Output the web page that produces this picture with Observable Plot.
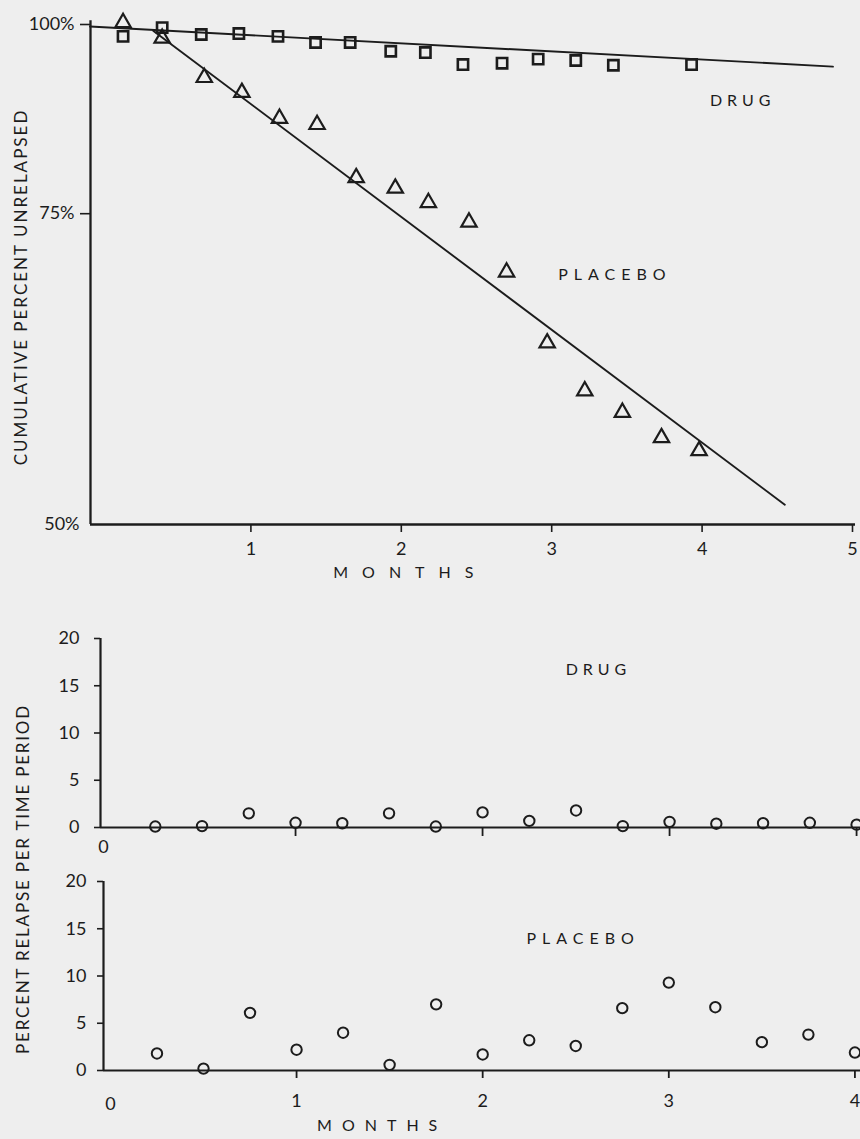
<!DOCTYPE html>
<html>
<head>
<meta charset="utf-8">
<script src="https://cdn.jsdelivr.net/npm/d3@7"></script>
<script src="https://cdn.jsdelivr.net/npm/@observablehq/plot@0.6"></script>
<style>
  html, body { margin: 0; padding: 0; background: #eeeeee; }
  #page { position: relative; width: 860px; height: 1139px; overflow: hidden; background: #eeeeee;
          font-family: Lato, "Open Sans", sans-serif; color: #1c1c1c; }
  #page svg { position: absolute; left: 0; }
  .ytitle { position: absolute; white-space: nowrap; font-size: 17px;
            transform: translate(-50%, -50%) rotate(-90deg); }
</style>
</head>
<body>
<div id="page"></div>
<script>
// ---------------- data ----------------
const xMonthTicksTop = [1, 2, 3, 4, 5];
const xMonthTicksRel = [1, 2, 3, 4];
const cumTicks = [50, 75, 100];
const relTicks = [0, 5, 10, 15, 20];
const groupNames = ["DRUG", "PLACEBO"];
const xTitle = "MONTHS";
const cumTitle = "CUMULATIVE PERCENT UNRELAPSED";
const relTitle = "PERCENT RELAPSE PER TIME PERIOD";

// cumulative percent unrelapsed (top panel)
const drugCumMonths = [0.15, 0.41, 0.67, 0.92, 1.18, 1.43, 1.66, 1.93, 2.16, 2.41, 2.67, 2.91, 3.16, 3.41, 3.93];
const drugCumPct    = [98.1, 99.5, 98.4, 98.55, 98.1, 97.15, 97.15, 95.8, 95.6, 93.8, 94.0, 94.6, 94.4, 93.7, 93.8];
const placeboCumMonths = [0.15, 0.41, 0.69, 0.94, 1.19, 1.44, 1.70, 1.96, 2.18, 2.45, 2.70, 2.97, 3.22, 3.47, 3.73, 3.98];
const placeboCumPct    = [100.3, 97.8, 91.9, 89.8, 86.3, 85.5, 79.0, 77.8, 76.2, 74.1, 69.1, 62.8, 59.0, 57.4, 55.6, 54.7];
// fitted lines (end points)
const drugFitMonths = [-0.07, 4.87];
const drugFitPct    = [99.67, 93.5];
const placeboFitMonths = [0.35, 4.55];
const placeboFitPct    = [99.0, 51.2];

// percent relapse per time period (middle = drug, bottom = placebo)
const relMonths      = [0.25, 0.5, 0.75, 1, 1.25, 1.5, 1.75, 2, 2.25, 2.5, 2.75, 3, 3.25, 3.5, 3.75, 4];
const drugRelapse    = [0.1, 0.15, 1.5, 0.5, 0.45, 1.5, 0.1, 1.6, 0.7, 1.8, 0.15, 0.6, 0.4, 0.45, 0.5, 0.3];
const placeboRelapse = [1.8, 0.2, 6.1, 2.2, 4.0, 0.6, 7.0, 1.7, 3.2, 2.6, 6.6, 9.3, 6.7, 3.0, 3.8, 1.9];

// ---------------- helpers ----------------
const INK = "#1c1c1c";
const FONT = "Lato, 'Open Sans', sans-serif";
const TICK_FS = 18;
const zip = (xs, ys) => xs.map((x, i) => ({x, y: ys[i]}));
const page = document.getElementById("page");
const fmt = d => String(d);

function place(svg, top, spacingMap) {
  svg.style.top = top + "px";
  d3.select(svg).selectAll("text").each(function () {
    const t = this.textContent;
    if (spacingMap[t] != null) d3.select(this).style("letter-spacing", spacingMap[t] + "px");
  });
  page.appendChild(svg);
}
const baseStyle = {background: "transparent", color: INK, fontFamily: FONT, fontSize: "17px", overflow: "visible"};

// ---------------- top panel ----------------
{
  const H = 600, MT = 24, MB = 76;
  const x0 = -0.0665;
  const svg = Plot.plot({
    width: 860, height: H, marginTop: MT, marginBottom: MB, marginLeft: 90, marginRight: 8,
    style: baseStyle,
    x: {domain: [x0, 5]},
    // printed vertical scale is compressed towards the top: 100%->75% shorter than 75%->50%
    y: {type: "pow", exponent: -0.44, domain: [cumTicks[0], cumTicks[cumTicks.length - 1]]},
    marks: [
      Plot.ruleX([x0], {y1: 100.6, y2: 50, stroke: INK, strokeWidth: 2.3}),
      Plot.ruleY([cumTicks[0]], {x1: x0, x2: 5.02, stroke: INK, strokeWidth: 2.3}),
      Plot.axisY(cumTicks.slice(1), {label: null, tickSize: 10, tickPadding: 6, tickFormat: d => d + "%", fontSize: TICK_FS, stroke: INK, strokeWidth: 1.6}),
      Plot.axisY(cumTicks.slice(0, 1), {label: null, tickSize: 0, tickPadding: 11, tickFormat: d => d + "%", fontSize: TICK_FS}),
      Plot.axisX(xMonthTicksTop, {label: null, tickSize: 8, tickPadding: 10, tickFormat: fmt, fontSize: TICK_FS, stroke: INK, strokeWidth: 1.6}),
      Plot.line(zip(drugFitMonths, drugFitPct), {x: "x", y: "y", stroke: INK, strokeWidth: 1.9}),
      Plot.line(zip(placeboFitMonths, placeboFitPct), {x: "x", y: "y", stroke: INK, strokeWidth: 1.9}),
      Plot.dot(zip(drugCumMonths, drugCumPct), {x: "x", y: "y", symbol: "square", r: 5.8, stroke: INK, strokeWidth: 2.6, fill: "none"}),
      Plot.dot(zip(placeboCumMonths, placeboCumPct), {x: "x", y: "y", symbol: "triangle", r: 5.7, stroke: INK, strokeWidth: 2.2, fill: "none"}),
      Plot.text([groupNames[0]], {x: 4.27, y: 88.7, text: d => d, fontSize: 16}),
      Plot.text([groupNames[1]], {x: 3.42, y: 68.8, text: d => d, fontSize: 16}),
      Plot.text([xTitle], {x: 2.06, frameAnchor: "bottom", dy: 53, text: d => d, fontSize: 16})
    ]
  });
  place(svg, 0, {DRUG: 5, PLACEBO: 6, MONTHS: 14});
}

// ---------------- middle panel (drug) ----------------
{
  const H = 260, MT = 38, MB = 33;
  const x0 = -0.043;
  const svg = Plot.plot({
    width: 860, height: H, marginTop: MT, marginBottom: MB, marginLeft: 100, marginRight: 0,
    style: baseStyle,
    x: {domain: [x0, 4.021]},
    y: {domain: [relTicks[0], relTicks[relTicks.length - 1]]},
    marks: [
      Plot.ruleX([x0], {stroke: INK, strokeWidth: 2.2}),
      Plot.ruleY([0], {stroke: INK, strokeWidth: 2.2}),
      Plot.axisY(relTicks, {label: null, tickSize: 6, tickPadding: 15, tickFormat: fmt, fontSize: TICK_FS, stroke: INK, strokeWidth: 1.6}),
      Plot.axisX(xMonthTicksRel, {label: null, tickSize: 9, tickFormat: () => "", stroke: INK, strokeWidth: 1.8}),
      Plot.axisX([0], {label: null, tickSize: 0, tickPadding: 13, tickFormat: fmt, fontSize: TICK_FS, dx: -5}),
      Plot.dot(zip(relMonths, drugRelapse), {x: "x", y: "y", r: 5.2, stroke: INK, strokeWidth: 2, fill: "none"}),
      Plot.text([groupNames[0]], {x: 2.62, y: 16.7, text: d => d, fontSize: 16})
    ]
  });
  place(svg, 600, {DRUG: 5});
}

// ---------------- bottom panel (placebo) ----------------
{
  const H = 279, MT = 21, MB = 69;
  const x0 = -0.0373;
  const svg = Plot.plot({
    width: 860, height: H, marginTop: MT, marginBottom: MB, marginLeft: 103, marginRight: 0,
    style: baseStyle,
    x: {domain: [x0, 4.03]},
    y: {domain: [relTicks[0], relTicks[relTicks.length - 1]]},
    marks: [
      Plot.ruleX([x0], {stroke: INK, strokeWidth: 2.2}),
      Plot.ruleY([0], {stroke: INK, strokeWidth: 2.2}),
      Plot.axisY(relTicks, {label: null, tickSize: 6, tickPadding: 11, tickFormat: fmt, fontSize: TICK_FS, stroke: INK, strokeWidth: 1.6}),
      Plot.axisX(xMonthTicksRel, {label: null, tickSize: 8, tickPadding: 16, tickFormat: fmt, fontSize: TICK_FS, stroke: INK, strokeWidth: 1.8}),
      Plot.axisX([0], {label: null, tickSize: 0, tickPadding: 27, tickFormat: fmt, fontSize: TICK_FS}),
      Plot.dot(zip(relMonths, placeboRelapse), {x: "x", y: "y", r: 5.2, stroke: INK, strokeWidth: 2, fill: "none"}),
      Plot.text([groupNames[1]], {x: 2.54, y: 13.9, text: d => d, fontSize: 16}),
      Plot.text([xTitle], {x: 1.46, frameAnchor: "bottom", dy: 60, text: d => d, fontSize: 16})
    ]
  });
  place(svg, 860, {PLACEBO: 6, MONTHS: 10});
}

// ---------------- rotated axis titles ----------------
function yTitle(text, cx, cy, ls) {
  const d = document.createElement("div");
  d.className = "ytitle";
  d.textContent = text;
  d.style.left = cx + "px";
  d.style.top = cy + "px";
  d.style.letterSpacing = ls + "px";
  page.appendChild(d);
}
yTitle(cumTitle, 20, 287, 2);
yTitle(relTitle, 22, 879, 1.8);
</script>
</body>
</html>
